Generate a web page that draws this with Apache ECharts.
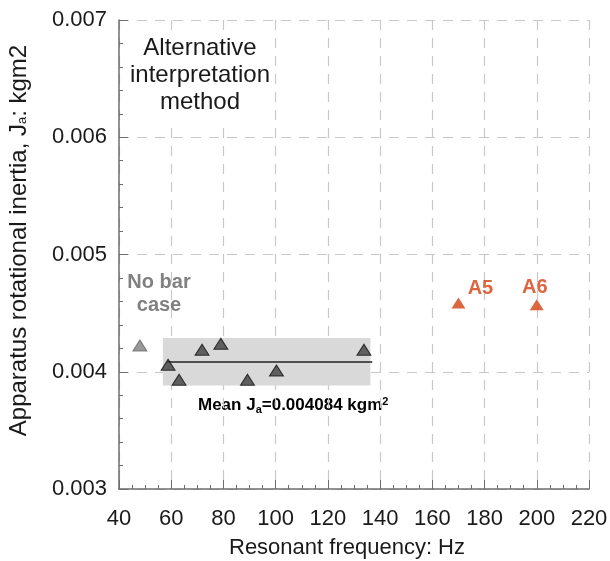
<!DOCTYPE html>
<html>
<head>
<meta charset="utf-8">
<script src="https://cdn.jsdelivr.net/npm/echarts@6/dist/echarts.min.js"></script>
<style>
  html, body { margin: 0; padding: 0; background: #fff; }
</style>
</head>
<body>
<div id="myChart" style="width:610px;height:561px;"></div>
<script>
// data
const noBarCase = [[48, 0.004224]];
const barCases = [
  [58.8, 0.004060], [63, 0.003932], [71.8, 0.004188], [79, 0.004239],
  [89.2, 0.003932], [100.3, 0.004011], [133.8, 0.004188]
];
const aCases = [[170, 0.004586], [200, 0.004571]];
const aNames = ['A5', 'A6'];
const meanValue = 0.004084;
const meanRange = [58.5, 137];
const bandRange = [[56.8, 0.004287], [136.3, 0.003883]];
const yTicks = [0.003, 0.004, 0.005, 0.006, 0.007];

const font = 'Liberation Sans, Arial, sans-serif';
const axisGray = '#6e6e6e';
const textColor = '#1a1a1a';
const red = '#d2400f';

let myChart = echarts.init(document.getElementById('myChart'));
myChart.setOption({
  animation: false,
  grid: { left: 119, right: 21, top: 20, bottom: 72, outerBoundsMode: 'none' },
  xAxis: {
    type: 'value',
    min: 40, max: 220, interval: 20,
    name: 'Resonant frequency: Hz',
    nameLocation: 'middle',
    nameGap: 48,
    nameTextStyle: { fontFamily: font, fontSize: 22, color: textColor, padding: [0, 14, 0, 0] },
    axisLine: { show: true, lineStyle: { color: axisGray, width: 1.5 } },
    axisTick: { show: true, inside: true, length: 9, lineStyle: { color: axisGray } },
    minorTick: { show: true, splitNumber: 4, length: 4, lineStyle: { color: axisGray } },
    axisLabel: { fontFamily: font, fontSize: 22, color: textColor, margin: 19 },
    splitLine: { show: true, lineStyle: { color: '#c8c8c8', type: [10, 8], width: 1.2 } }
  },
  yAxis: {
    type: 'value',
    min: yTicks[0], max: yTicks[yTicks.length - 1], interval: 0.001,
    name: '{n|Apparatus rotational inertia, J}{s|a}{n|: kgm2}',
    nameLocation: 'middle',
    nameGap: 88,
    nameTextStyle: {
      padding: [0, 0, 0, 28],
      rich: {
        n: { fontFamily: font, fontSize: 24, color: textColor },
        s: { fontFamily: font, fontSize: 13, color: textColor, padding: [6, 0, 0, 0] }
      }
    },
    axisLine: { show: true, lineStyle: { color: axisGray, width: 1.5 } },
    axisTick: { show: true, inside: true, length: 9, lineStyle: { color: axisGray } },
    minorTick: { show: true, splitNumber: 5, length: 4, lineStyle: { color: axisGray } },
    axisLabel: {
      fontFamily: font, fontSize: 22, color: textColor, margin: 12,
      formatter: v => v.toFixed(3)
    },
    splitLine: { show: true, lineStyle: { color: '#c8c8c8', type: [10, 8], width: 1.2 } }
  },
  series: [
    {
      name: 'band',
      type: 'line',
      data: [],
      silent: true,
      markArea: {
        silent: true,
        itemStyle: { color: '#d9d9d9', opacity: 1 },
        data: [[{ coord: bandRange[0] }, { coord: bandRange[1] }]]
      }
    },
    {
      name: 'mean',
      type: 'line',
      data: meanRange.map(x => [x, meanValue]),
      symbol: 'none',
      lineStyle: { color: '#222', width: 1.5 },
      z: 3
    },
    {
      name: 'No bar case',
      type: 'scatter',
      data: noBarCase,
      symbol: 'triangle',
      symbolSize: [14, 11],
      itemStyle: { color: '#7f7f7f', borderColor: '#6a6a6a', borderWidth: 1 },
      z: 4
    },
    {
      name: 'Bar cases',
      type: 'scatter',
      data: barCases,
      symbol: 'triangle',
      symbolSize: [14, 11],
      itemStyle: { color: '#404040', borderColor: '#111', borderWidth: 1 },
      z: 4
    },
    {
      name: 'A cases',
      type: 'scatter',
      data: aCases.map((p, i) => ({
        value: p,
        label: {
          show: true,
          formatter: aNames[i],
          position: 'inside',
          offset: i === 0 ? [22, -15] : [-2, -17]
        }
      })),
      symbol: 'triangle',
      symbolSize: [14, 11],
      itemStyle: { color: red },
      label: { fontFamily: font, fontSize: 20, fontWeight: 'bold', color: red },
      z: 4
    }
  ],
  graphic: [
    {
      type: 'text', x: 200, y: 33, z: 10,
      style: {
        text: 'Alternative\ninterpretation\nmethod',
        font: '24px ' + font, fill: textColor, align: 'center', lineHeight: 27,
        backgroundColor: '#fff', padding: [2, 4, 4, 4]
      }
    },
    {
      type: 'text', x: 159, y: 271,
      style: {
        text: 'No bar\ncase',
        font: 'bold 20px ' + font, fill: '#808080', align: 'center', lineHeight: 23
      }
    },
    {
      type: 'text', x: 198, y: 395,
      style: {
        text: '{b|Mean J}{s|a}{b|=0.004084 kgm}{p|2}',
        rich: {
          b: { fontFamily: font, fontSize: 17, fontWeight: 'bold', color: textColor },
          s: { fontFamily: font, fontSize: 11, fontWeight: 'bold', color: textColor, padding: [9, 0, 0, 0] },
          p: { fontFamily: font, fontSize: 11, fontWeight: 'bold', color: textColor, padding: [0, 0, 7, 0] }
        }
      }
    }
  ]
});

window.onresize = function () {
  myChart.resize();
};
</script>
</body>
</html>
